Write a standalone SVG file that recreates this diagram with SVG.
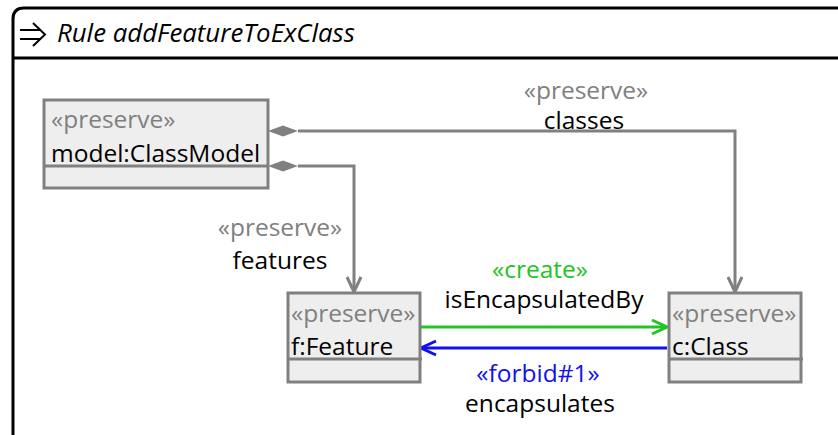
<svg xmlns="http://www.w3.org/2000/svg" width="838" height="435" viewBox="0 0 838 435">
<style>
text{font-family:"Open Sans","Noto Sans","DejaVu Sans",sans-serif;font-size:24.5px;fill:#000}
.st{fill:#808080}
.box{fill:#eeeeee;stroke:#808080;stroke-width:3}
.sep{stroke:#808080;stroke-width:3}
.e{fill:none;stroke:#808080;stroke-width:3}
.mid{text-anchor:middle}
</style>
<defs>
<marker id="oa" markerWidth="20" markerHeight="20" viewBox="0 0 20 20" refX="18" refY="10" orient="auto" markerUnits="userSpaceOnUse">
<path d="M3,3 L18,10 L3,17" fill="none" stroke="#808080" stroke-width="3"/>
</marker>
<marker id="og" markerWidth="20" markerHeight="20" viewBox="0 0 20 20" refX="18" refY="10" orient="auto" markerUnits="userSpaceOnUse">
<path d="M3,3 L18,10 L3,17" fill="none" stroke="#22c422" stroke-width="3"/>
</marker>
<marker id="ob" markerWidth="20" markerHeight="20" viewBox="0 0 20 20" refX="18" refY="10" orient="auto" markerUnits="userSpaceOnUse">
<path d="M3,3 L18,10 L3,17" fill="none" stroke="#1010f0" stroke-width="3"/>
</marker>
</defs>
<g id="frame">
<path d="M840,8 L24,8 Q13,8 13,19 L13,440" fill="none" stroke="#000" stroke-width="3"/>
<line x1="13" y1="58" x2="840" y2="58" stroke="#000" stroke-width="3"/>
<path d="M20,30 L41,30 M20,39 L41,39 M33,23 L45,34.5 L33,46" fill="none" stroke="#000" stroke-width="2"/>
<text x="57" y="42" font-style="italic" style="font-size:25.8px">Rule addFeatureToExClass</text>
</g>
<g id="connectors">
<g id="e-classes">
<path class="e" d="M298,131 L735,131 L735,292" marker-end="url(#oa)"/>
<path d="M268,131 L283,125.5 L298,131 L283,136.5 Z" fill="#808080"/>
<text class="st mid" x="586" y="99">«preserve»</text>
<text class="mid" x="584" y="129">classes</text>
</g>
<g id="e-features">
<path class="e" d="M298,166 L354,166 L354,292" marker-end="url(#oa)"/>
<path d="M268,166 L283,160.5 L298,166 L283,171.5 Z" fill="#808080"/>
<text class="st mid" x="280" y="236">«preserve»</text>
<text class="mid" x="280" y="269">features</text>
</g>
<g id="e-isEncapsulatedBy">
<path d="M421,327 L667,327" fill="none" stroke="#22c422" stroke-width="3" marker-end="url(#og)"/>
<text class="mid" x="540" y="278" style="fill:#22c422">«create»</text>
<text class="mid" x="544" y="308">isEncapsulatedBy</text>
</g>
<g id="e-encapsulates">
<path d="M667,348 L421,348" fill="none" stroke="#1010f0" stroke-width="3" marker-end="url(#ob)"/>
<text class="mid" x="538" y="382" style="fill:#1010f0">«forbid#1»</text>
<text class="mid" x="540" y="412">encapsulates</text>
</g>
</g>
<g id="n-model">
<rect class="box" x="44" y="100" width="224" height="88"/>
<line class="sep" x1="44" y1="166" x2="268" y2="166"/>
<text class="st" x="51" y="128">«preserve»</text>
<text x="51" y="162">model:ClassModel</text>
</g>
<g id="n-feature">
<rect class="box" x="288" y="293" width="132" height="89"/>
<line class="sep" x1="288" y1="359" x2="422" y2="359"/>
<text class="st" x="291" y="322">«preserve»</text>
<text x="291" y="355">f:Feature</text>
</g>
<g id="n-class">
<rect class="box" x="669" y="293" width="132" height="89"/>
<line class="sep" x1="669" y1="359" x2="803" y2="359"/>
<text class="st" x="672" y="322">«preserve»</text>
<text x="672" y="355">c:Class</text>
</g>
</svg>
